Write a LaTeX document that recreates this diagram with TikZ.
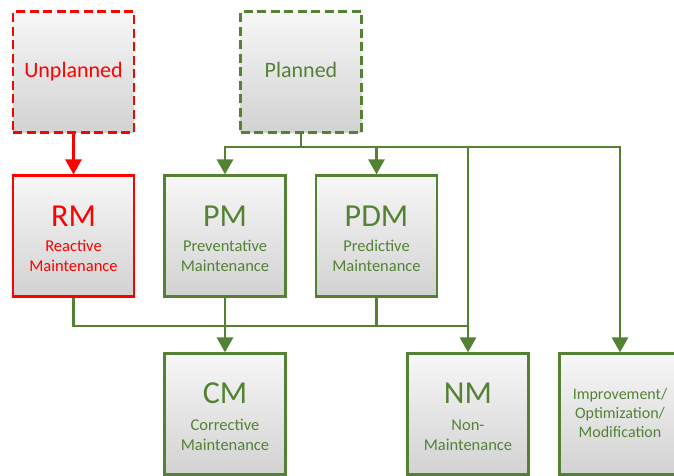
\documentclass[tikz,border=0pt]{standalone}
\usepackage{fontspec}
\setmainfont{Carlito}
\usetikzlibrary{arrows.meta}
\definecolor{mred}{HTML}{FF0000}
\definecolor{mgreen}{HTML}{548235}
\definecolor{fillhi}{HTML}{F7F7F7}
\definecolor{filllo}{HTML}{D2D2D2}
\tikzset{
  box/.style={draw, line width=2.2pt, minimum width=121pt, minimum height=121pt,
    inner sep=0pt, top color=fillhi, bottom color=filllo, shading angle=0},
  redbox/.style={box, draw=mred},
  greenbox/.style={box, draw=mgreen},
  dashbox/.style={dash pattern=on 9pt off 4.5pt},
  abbr/.style={inner sep=0pt, anchor=base, font=\fontsize{32}{32}\selectfont},
  desc/.style={inner sep=0pt, anchor=base, align=center, font=\fontsize{16.5}{20}\selectfont},
  head/.style={inner sep=0pt, anchor=base, font=\fontsize{22}{24}\selectfont},
  link/.style={draw=mgreen, line width=2.8pt},
  arr/.style={-{Triangle[width=16pt,length=15pt]}},
}
\begin{document}
\begin{tikzpicture}[x=1pt,y=-1pt]
  \useasboundingbox (0,0) rectangle (674,475);
  \clip (0,0) rectangle (674,475);

  % category boxes
  \node[redbox, dashbox] (unpl) at (73.5,72) {};
  \node[greenbox, dashbox] (plan) at (301,72) {};
  \node[head, text=mred] (unplt) at ([yshift=-67pt]unpl.north) {Unplanned};
  \node[head, text=mgreen] (plant) at ([yshift=-67pt]plan.north) {Planned};

  % maintenance types
  \node[redbox] (rm) at (73.5,236) {};
  \node[greenbox] (pm) at (225,236) {};
  \node[greenbox] (pdm) at (376.5,236) {};
  \node[greenbox] (cm) at (225,414) {};
  \node[greenbox] (nm) at (468,414) {};
  \node[greenbox] (imp) at (620,414) {};

  % abbreviations (baseline) and descriptions (baseline of last line)
  \node[abbr, text=mred] (rma) at ([yshift=-52pt]rm.north) {RM};
  \node[desc, text=mred] (rmd) at ([yshift=-97pt]rm.north) {Reactive\\Maintenance};
  \node[abbr, text=mgreen] (pma) at ([yshift=-52pt]pm.north) {PM};
  \node[desc, text=mgreen] (pmd) at ([yshift=-97pt]pm.north) {Preventative\\Maintenance};
  \node[abbr, text=mgreen] (pdma) at ([yshift=-52pt]pdm.north) {PDM};
  \node[desc, text=mgreen] (pdmd) at ([yshift=-97pt]pdm.north) {Predictive\\Maintenance};
  \node[abbr, text=mgreen] (cma) at ([yshift=-51pt]cm.north) {CM};
  \node[desc, text=mgreen] (cmd) at ([yshift=-98pt]cm.north) {Corrective\\Maintenance};
  \node[abbr, text=mgreen] (nma) at ([yshift=-51pt]nm.north) {NM};
  \node[desc, text=mgreen] (nmd) at ([yshift=-98pt]nm.north) {Non-\\Maintenance};
  \node[desc, text=mgreen, font=\fontsize{16}{19}\selectfont] (impd) at ([yshift=-85pt]imp.north) {Improvement/\\Optimization/\\Modification};

  % junction points of the connector buses
  \coordinate (top) at (301,147);
  \coordinate (low) at (225,326);

  % unplanned branch
  \draw[draw=mred, line width=2.8pt, arr] (unpl.south) -- (rm.north);

  % planned branch
  \draw[link] (plan.south) -- (top);
  \draw[link, arr] (top) -| (pm.north);
  \draw[link, arr] (top) -| (pdm.north);
  \draw[link, arr] (top) -| (nm.north);
  \draw[link, arr] (top) -| (imp.north);

  % lower bus into corrective maintenance
  \draw[link] (rm.south) |- (nm.north |- low);
  \draw[link] (pdm.south) -- (pdm.south |- low);
  \draw[link, arr] (pm.south) -- (cm.north);
\end{tikzpicture}
\end{document}
